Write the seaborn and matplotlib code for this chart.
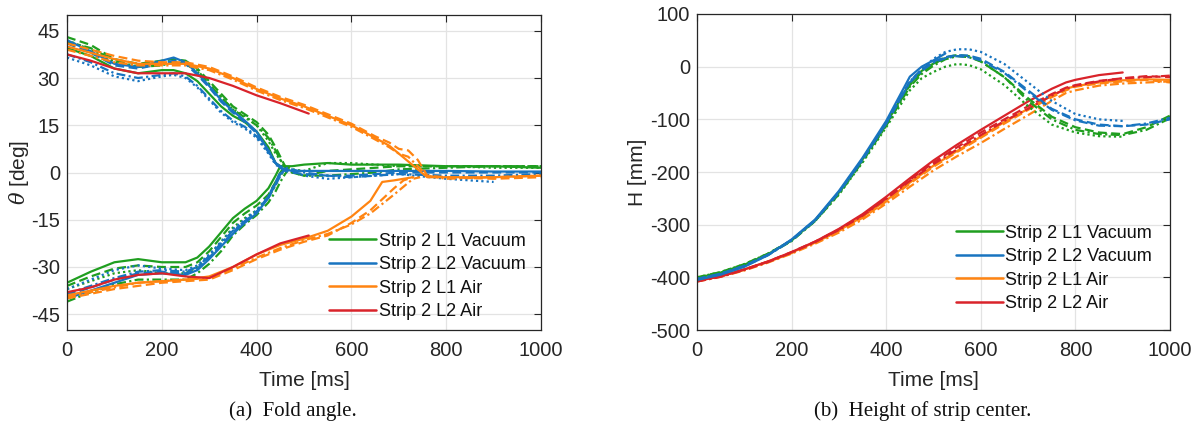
import numpy as np
import pandas as pd
import matplotlib
matplotlib.use("Agg")
import matplotlib.pyplot as plt
from matplotlib.lines import Line2D
import seaborn as sns

nan = np.nan

# ---------------- data: fold angle (deg) ----------------
series_names = ["Strip 2 L1 Vacuum", "Strip 2 L2 Vacuum", "Strip 2 L1 Air", "Strip 2 L2 Air"]

t_vac_up = [0, 50, 100, 150, 200, 225, 250, 275, 300, 325, 350, 375, 400, 425, 440, 450, 460, 475, 500, 550, 600, 650, 700, 800, 900, 1000]
th_up_l1v_r1 = [39.5, 37, 33, 31.5, 32.5, 32.5, 31.5, 29, 25, 21, 18, 16, 13, 8, 3, 2, 2, 2, 2.5, 3, 2.5, 2.5, 2.5, 2, 2, 1.5]
th_up_l1v_r2 = [43, 40.5, 36, 34.5, 35.5, 36, 35.5, 33, 29, 25, 21, 18.5, 16, 12, 8, 5, 2, 0, -1, 0.5, 1, 1.5, 2, 2, 2, 2]
th_up_l1v_r3 = [42, 39, 35, 33.5, 34.5, 35, 34.5, 32, 28, 24, 20, 18, 15, 10, 6, 4, 2, 1, 0.5, 3, 3, 2.5, 2, 2, 1.5, 1.5]
th_up_l1v_r4 = [41.5, 39.5, 35.5, 33.5, 34, 35, 35, 32.5, 28, 24, 20, 17.5, 15, 11, 7, 4, 1.5, 0, -1, -1, -0.5, 0, 1, 1.5, 2, 2]
th_up_l2v_r1 = [42, 38.5, 34.5, 33.5, 35.5, 36.5, 35, 31.5, 27.5, 23, 19.5, 16.5, 13, 7, 3, 1.5, 1, 0.5, 0.5, 0.5, 0.5, 0.5, 0.5, 0.5, 0.3, 0.3]
th_up_l2v_r2 = [41, 38, 34, 33, 34.5, 35.5, 34.5, 31, 27, 22.5, 19, 16, 12.5, 7, 3, 1.5, 0.5, 0, -0.5, -1, -1, -0.5, 0, 0, 0, 0]
th_up_l2v_r3 = [36.5, 34, 30.5, 29, 30.5, 31, 30, 27, 23, 19, 16, 14, 11, 6, 2.5, 1.5, 1, 0.5, -1, -2, -1.5, -1, -0.5, -2, -3, nan]
th_up_l2v_r4 = [37.5, 35, 31.5, 30, 31, 31.5, 30.5, 27.5, 23.5, 19.5, 16.5, 14.5, 11.5, 6.5, 3, 2, 1.5, 1, 0, -1, -1.5, -1, -0.5, -1, -1, -0.5]

t_vac_lo = [0, 50, 100, 150, 200, 250, 275, 300, 325, 350, 375, 400, 425, 440, 450, 460, 470]
th_lo_l1v_r1 = [-35, -31.5, -28.5, -27.5, -28.5, -28.5, -27, -23.5, -19, -14.5, -11.5, -9, -5, -1, 2, nan, nan]
th_lo_l1v_r2 = [-36, -33, -30.5, -29.5, -30, -30, -28.5, -25, -20.5, -16, -13, -10.5, -7, -3, 0, 2, nan]
th_lo_l1v_r3 = [-37, -34.5, -32, -31, -32, -32, -30, -26.5, -22, -17.5, -14.5, -12, -8, -4, -1, 1, nan]
th_lo_l1v_r4 = [-41, -38, -35.5, -34, -34, -34, -32, -29, -25, -20, -16.5, -13.5, -9.5, -6, -3, -0.5, 1.5]
th_lo_l2v_r1 = [-40, -37.5, -35, -32.5, -32, -32.5, -31, -27.5, -23.5, -19.5, -16, -13, -8, -3.5, -0.5, 1, nan]
th_lo_l2v_r2 = [-39, -36.5, -34, -32, -31.5, -32, -30.5, -27, -23, -19, -15.5, -12.5, -7.5, -3, 0, 1, nan]
th_lo_l2v_r3 = [-37, -34, -31, -29.5, -30.5, -31, -29.5, -26, -22, -18, -15, -12, -7.5, -3.5, -1, 1, nan]
th_lo_l2v_r4 = [-38.5, -36, -33.5, -31.5, -31, -31.5, -30, -26.5, -22.5, -18.5, -15.5, -12.5, -8, -4, -1, 1.5, nan]

t_air_up = [0, 50, 100, 150, 200, 250, 300, 350, 400, 450, 500, 550, 600, 650, 680, 700, 720, 740, 760, 800, 900, 1000]
th_up_l1a_r1 = [40, 38, 36, 34.5, 34.5, 34.5, 33, 30, 26.5, 23.5, 21, 18, 15, 11, 8.5, 6, 3.5, 1, -1.5, -1.5, -1.5, -1]
th_up_l1a_r2 = [41, 39, 37, 35.5, 35, 35, 33.5, 30.5, 27, 24, 21.5, 18.5, 15.5, 11.5, 9.5, 7.5, 7, 4, -1, -1.5, -2, -1.5]
th_up_l1a_r4 = [39, 37, 35, 34, 34, 34, 32.5, 29.5, 26, 23, 20.5, 17.5, 14.5, 10.5, 8, 6, 5, 2, -1, -2, -1.5, -1]

t_air_lo = [0, 50, 100, 150, 200, 250, 300, 350, 400, 450, 500, 550, 600, 640, 665, 690, 710, 730, 745]
th_lo_l1a_r1 = [-39, -37.5, -36, -35, -34.5, -34, -33, -30, -26, -23, -21, -18.5, -14, -9, -3, -2.5, -2, -1.5, nan]
th_lo_l1a_r2 = [-40, -38.5, -37, -36, -35, -34.5, -34, -31, -27.5, -24.5, -22, -20, -16, -12, -8.5, -5, -2.5, -1.5, nan]
th_lo_l1a_r4 = [-39.5, -38, -36.5, -35, -34.5, -34, -33.5, -30.5, -27, -24, -21.5, -19.5, -16.5, -13, -10, -7, -4.5, -2, -1.5]

t_red = [0, 50, 100, 150, 200, 250, 300, 350, 400, 450, 510]
th_up_l2a_r1 = [37.5, 35.5, 33, 31.5, 31.5, 31.5, 30, 27.5, 24.5, 22, 18.7]
th_lo_l2a_r1 = [-38, -36.5, -34, -32.5, -32, -33, -33.5, -30, -26, -22.5, -20]

# ---------------- data: height of strip center (mm) ----------------
t_h_vac = [0, 50, 100, 150, 200, 250, 300, 350, 400, 450, 475, 500, 525, 550, 575, 600, 650, 700, 750, 800, 850, 900, 950, 1000]
h_l1v_r1 = [-401, -391, -376, -356, -330, -291, -239, -176, -108, -32, -8, 6, 16, nan, nan, nan, nan, nan, nan, nan, nan, nan, nan, nan]
h_l1v_r2 = [-400, -390, -375, -355, -330, -292, -240, -178, -110, -35, -10, 5, 18, 22, 20, 10, -20, -60, -95, -115, -125, -128, -115, -93]
h_l1v_r3 = [-400, -390, -375, -355, -330, -293, -243, -182, -115, -45, -22, -10, 0, 5, 3, -5, -35, -75, -110, -125, -132, -133, nan, nan]
h_l1v_r4 = [-402, -392, -377, -357, -331, -293, -242, -180, -112, -38, -14, 2, 14, 20, 18, 10, -20, -65, -100, -120, -128, -130, -120, -98]
h_l2v_r1 = [-405, -395, -380, -358, -328, -290, -236, -173, -103, -19, 0, 12, 25, nan, nan, nan, nan, nan, nan, nan, nan, nan, nan, nan]
h_l2v_r2 = [-403, -393, -378, -357, -329, -291, -238, -176, -107, -28, -5, 10, 18, 22, 21, 15, -10, -45, -80, -100, -110, -113, -110, -100]
h_l2v_r3 = [-403, -393, -378, -357, -329, -291, -238, -176, -107, -28, -5, 15, 28, 33, 33, 28, 5, -30, -65, -90, -100, -103, nan, nan]
h_l2v_r4 = [-404, -394, -379, -358, -330, -292, -239, -177, -108, -30, -8, 8, 16, 20, 18, 12, -12, -48, -82, -102, -112, -113, -108, -97]

t_h_air = [0, 50, 100, 150, 200, 250, 300, 350, 400, 450, 500, 550, 600, 650, 700, 750, 780, 800, 850, 900, 950, 1000]
h_l2a_r1 = [-407, -398, -385, -370, -352, -332, -308, -280, -247, -212, -178, -148, -120, -93, -66, -42, -30, -25, -16, -11, nan, nan]
h_l2a_r2 = [-407, -398, -385, -370, -352, -332, -309, -282, -250, -215, -182, -153, -125, -100, -75, -52, -40, -35, -27, -22, -18, -20]
h_l2a_r4 = [-408, -399, -386, -371, -353, -333, -310, -283, -251, -217, -185, -157, -130, -103, -80, -55, -42, -36, -28, -22, -20, -17]
h_l1a_r1 = [-407, -398, -385, -370, -353, -333, -311, -285, -254, -220, -188, -160, -133, -105, -80, -55, -42, -37, -30, -26, -24, -25]
h_l1a_r2 = [-407, -398, -386, -371, -354, -334, -312, -287, -256, -222, -190, -162, -135, -108, -82, -58, -45, -38, -32, -28, -25, -30]
h_l1a_r4 = [-408, -399, -387, -372, -355, -336, -315, -290, -260, -228, -197, -170, -145, -118, -92, -65, -50, -45, -36, -32, -30, -28]

x_ticks = [0, 200, 400, 600, 800, 1000]
theta_ticks = [-45, -30, -15, 0, 15, 30, 45]
h_ticks = [-500, -400, -300, -200, -100, 0, 100]

# ---------------- build long tables ----------------
def build(entries):
    frames = []
    for i, (s, run, t, v) in enumerate(entries):
        frames.append(pd.DataFrame({"t": t, "v": v, "series": s, "run": run, "curve": i}))
    d = pd.concat(frames, ignore_index=True)
    return d.dropna()

L1V, L2V, L1A, L2A = series_names
theta_df = build([
    (L1V, "r1", t_vac_up, th_up_l1v_r1), (L1V, "r2", t_vac_up, th_up_l1v_r2),
    (L1V, "r3", t_vac_up, th_up_l1v_r3), (L1V, "r4", t_vac_up, th_up_l1v_r4),
    (L2V, "r1", t_vac_up, th_up_l2v_r1), (L2V, "r2", t_vac_up, th_up_l2v_r2),
    (L2V, "r3", t_vac_up, th_up_l2v_r3), (L2V, "r4", t_vac_up, th_up_l2v_r4),
    (L1V, "r1", t_vac_lo, th_lo_l1v_r1), (L1V, "r2", t_vac_lo, th_lo_l1v_r2),
    (L1V, "r3", t_vac_lo, th_lo_l1v_r3), (L1V, "r4", t_vac_lo, th_lo_l1v_r4),
    (L2V, "r1", t_vac_lo, th_lo_l2v_r1), (L2V, "r2", t_vac_lo, th_lo_l2v_r2),
    (L2V, "r3", t_vac_lo, th_lo_l2v_r3), (L2V, "r4", t_vac_lo, th_lo_l2v_r4),
    (L1A, "r1", t_air_up, th_up_l1a_r1), (L1A, "r2", t_air_up, th_up_l1a_r2),
    (L1A, "r4", t_air_up, th_up_l1a_r4),
    (L1A, "r1", t_air_lo, th_lo_l1a_r1), (L1A, "r2", t_air_lo, th_lo_l1a_r2),
    (L1A, "r4", t_air_lo, th_lo_l1a_r4),
    (L2A, "r1", t_red, th_up_l2a_r1), (L2A, "r1", t_red, th_lo_l2a_r1),
])
h_df = build([
    (L1A, "r1", t_h_air, h_l1a_r1), (L1A, "r2", t_h_air, h_l1a_r2), (L1A, "r4", t_h_air, h_l1a_r4),
    (L2A, "r1", t_h_air, h_l2a_r1), (L2A, "r2", t_h_air, h_l2a_r2), (L2A, "r4", t_h_air, h_l2a_r4),
    (L1V, "r1", t_h_vac, h_l1v_r1), (L1V, "r2", t_h_vac, h_l1v_r2),
    (L1V, "r3", t_h_vac, h_l1v_r3), (L1V, "r4", t_h_vac, h_l1v_r4),
    (L2V, "r1", t_h_vac, h_l2v_r1), (L2V, "r2", t_h_vac, h_l2v_r2),
    (L2V, "r3", t_h_vac, h_l2v_r3), (L2V, "r4", t_h_vac, h_l2v_r4),
])

# ---------------- style ----------------
sns.set_theme(style="white")
plt.rcParams["font.family"] = ["Liberation Sans", "DejaVu Sans"]
plt.rcParams["mathtext.fontset"] = "dejavuserif"
plt.rcParams["axes.unicode_minus"] = False

palette = {L1V: "#1f9e1f", L2V: "#1874c0", L1A: "#ff8411", L2A: "#d9232a"}
dashes = {"r1": "", "r2": (4, 2), "r3": (1, 1.4), "r4": (4, 1.5, 1, 1.5)}
txt = "#262626"

fig = plt.figure(figsize=(11.94, 4.28), dpi=100)
ax1 = fig.add_axes([67 / 1194, 1 - 330 / 428, (541 - 67) / 1194, (330 - 15) / 428])
ax2 = fig.add_axes([697 / 1194, 1 - 330 / 428, (1170 - 697) / 1194, (330 - 14) / 428])

for ax, d in ((ax1, theta_df), (ax2, h_df)):
    sns.lineplot(data=d, x="t", y="v", hue="series", style="run", units="curve",
                 estimator=None, sort=False, palette=palette, dashes=dashes,
                 linewidth=1.6, legend=False, ax=ax)

def style_axes(ax, yticks, ylim, ylabel, leg_anchor, ylpad):
    ax.set_xlim(0, 1000)
    ax.set_ylim(*ylim)
    ax.set_xticks(x_ticks)
    ax.set_yticks(yticks)
    ax.grid(True, color="#e3e3e3", linewidth=0.9)
    ax.set_axisbelow(True)
    ax.tick_params(direction="in", length=5, width=0.8, top=True, right=True,
                   labelsize=14.5, colors=txt)
    ax.tick_params(axis="x", pad=8)
    ax.tick_params(axis="y", pad=5)
    for sp in ax.spines.values():
        sp.set_color(txt)
        sp.set_linewidth(0.9)
    ax.set_xlabel("Time [ms]", fontsize=15, color=txt, labelpad=8)
    ax.set_ylabel(ylabel, fontsize=15, color=txt, labelpad=ylpad)
    handles = [Line2D([0], [0], color=palette[s], lw=1.8) for s in series_names]
    leg = ax.legend(handles, series_names, loc="lower right", bbox_to_anchor=leg_anchor,
                    frameon=False, fontsize=13, handlelength=2.6, handletextpad=0.15,
                    labelspacing=0.36, borderpad=0.2, borderaxespad=0)
    for t in leg.get_texts():
        t.set_color("#111111")

style_axes(ax1, theta_ticks, (-50, 50), r"$\theta$ [deg]", (0.975, 0.02), 0)
style_axes(ax2, h_ticks, (-500, 100), "H [mm]", (0.97, 0.045), 2)

cap_font = dict(family=["Liberation Serif", "DejaVu Serif"], fontsize=15, color="#111111",
                ha="center", va="center")
fig.text(293 / 1194, 1 - 411 / 428, "(a)  Fold angle.", **cap_font)
fig.text(923 / 1194, 1 - 411 / 428, "(b)  Height of strip center.", **cap_font)

fig.savefig("out.png", dpi=100)
